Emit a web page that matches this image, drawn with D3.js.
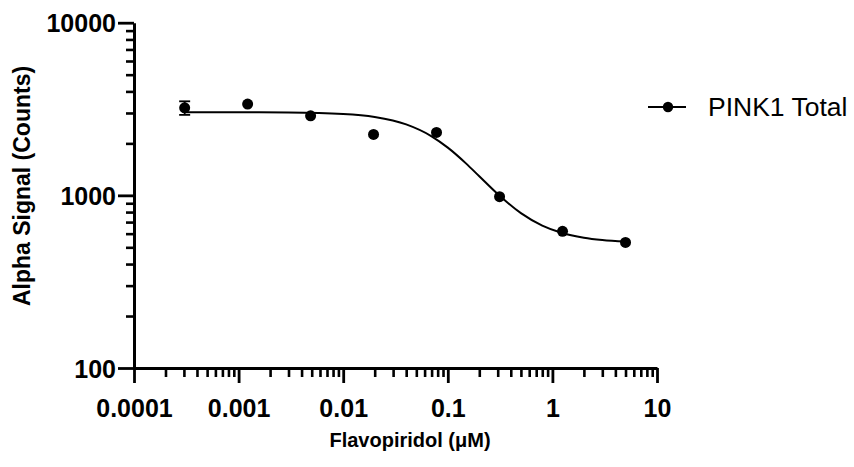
<!DOCTYPE html>
<html>
<head>
<meta charset="utf-8">
<script src="https://cdn.jsdelivr.net/npm/d3@7"></script>
<style>
  html, body { margin: 0; padding: 0; background: #fff; }
  svg { display: block; }
  text { font-family: "Liberation Sans", Arial, Helvetica, sans-serif; }
</style>
</head>
<body>
<svg id="chart" width="854" height="467"></svg>
<script>
// ---- data ----
const concentrations = [0.000305, 0.00122, 0.00488, 0.0195, 0.078, 0.3125, 1.25, 5]; // µM
const signal = [3215, 3380, 2890, 2255, 2316, 982, 619, 534];                         // counts
const sem = [290, 0, 0, 0, 0, 0, 0, 0];
// fitted curve
const fitX = [0.0003, 0.001, 0.003, 0.01, 0.02, 0.04, 0.07, 0.1, 0.15, 0.2, 0.3, 0.5, 0.8, 1.2, 2, 3, 5];
const fitY = [3030, 3027, 3017, 2958, 2842, 2576, 2198, 1890, 1527, 1290, 1018, 789, 668, 609, 568, 551, 540];
const xMajor = [0.0001, 0.001, 0.01, 0.1, 1, 10];
const xMajorLabels = ["0.0001", "0.001", "0.01", "0.1", "1", "10"];
const yMajor = [100, 1000, 10000];
const yMajorLabels = ["100", "1000", "10000"];
const seriesName = "PINK1 Total";
const xTitle = "Flavopiridol (\u03BCM)";
const yTitle = "Alpha Signal (Counts)";

// ---- layout ----
const svg = d3.select("#chart");
const x = d3.scaleLog().domain([1e-4, 10]).range([134, 657]);
const y = d3.scaleLog().domain([100, 10000]).range([368, 22.7]);

function minorsOf(majors) {
  const out = [];
  for (let i = 0; i < majors.length - 1; i++)
    for (let k = 2; k <= 9; k++) out.push(majors[i] * k);
  return out;
}
const xMinor = minorsOf(xMajor);
const yMinor = minorsOf(yMajor);

const tickFont = 25;

// X axis minor
svg.append("g").attr("transform", "translate(0,368)")
  .call(d3.axisBottom(x).tickValues(xMinor).tickSize(9).tickSizeOuter(0).tickFormat(""))
  .call(g => g.select(".domain").remove())
  .call(g => g.selectAll(".tick line").attr("stroke", "#000").attr("stroke-width", 2.6));
// X axis major
svg.append("g").attr("transform", "translate(0,368)")
  .call(d3.axisBottom(x).tickValues(xMajor).tickSize(15).tickSizeOuter(0).tickPadding(16)
    .tickFormat((d, i) => xMajorLabels[i]))
  .call(g => g.select(".domain").attr("stroke", "#000").attr("stroke-width", 3))
  .call(g => g.selectAll(".tick line").attr("stroke", "#000").attr("stroke-width", 2.8))
  .call(g => g.selectAll(".tick text").attr("fill", "#000")
    .style("font-size", tickFont + "px").style("font-weight", "bold")
    .style("font-family", '"Liberation Sans", Arial, sans-serif'));

// Y axis minor
svg.append("g").attr("transform", "translate(134,0)")
  .call(d3.axisLeft(y).tickValues(yMinor).tickSize(8).tickSizeOuter(0).tickFormat(""))
  .call(g => g.select(".domain").remove())
  .call(g => g.selectAll(".tick line").attr("stroke", "#000").attr("stroke-width", 2.6));
// Y axis major
svg.append("g").attr("transform", "translate(134,0)")
  .call(d3.axisLeft(y).tickValues(yMajor).tickSize(16).tickSizeOuter(0).tickPadding(2)
    .tickFormat((d, i) => yMajorLabels[i]))
  .call(g => g.select(".domain").attr("stroke", "#000").attr("stroke-width", 3))
  .call(g => g.selectAll(".tick line").attr("stroke", "#000").attr("stroke-width", 2.8))
  .call(g => g.selectAll(".tick text").attr("fill", "#000").attr("dy", "0.36em")
    .style("font-size", tickFont + "px").style("font-weight", "bold")
    .style("font-family", '"Liberation Sans", Arial, sans-serif'));

// Axis titles
svg.append("text")
  .attr("x", 410).attr("y", 447)
  .attr("text-anchor", "middle")
  .style("font-size", "20px").style("font-weight", "bold")
  .text(xTitle);

svg.append("text")
  .attr("transform", "translate(30,186) rotate(-90)")
  .attr("text-anchor", "middle")
  .style("font-size", "23px").style("font-weight", "bold")
  .text(yTitle);

// Fitted curve
const line = d3.line()
  .x((d, i) => x(fitX[i]))
  .y((d, i) => y(fitY[i]))
  .curve(d3.curveMonotoneX);
svg.append("path")
  .datum(fitX)
  .attr("d", line)
  .attr("fill", "none")
  .attr("stroke", "#000")
  .attr("stroke-width", 2);

// Error bars
const pts = concentrations.map((c, i) => ({ c, v: signal[i], e: sem[i] }));
const eb = svg.append("g").attr("stroke", "#000").attr("stroke-width", 1.8);
pts.filter(d => d.e > 0).forEach(d => {
  const cx = x(d.c);
  eb.append("line").attr("x1", cx).attr("x2", cx).attr("y1", y(d.v + d.e)).attr("y2", y(d.v - d.e));
  eb.append("line").attr("x1", cx - 5.5).attr("x2", cx + 5.5).attr("y1", y(d.v + d.e)).attr("y2", y(d.v + d.e));
  eb.append("line").attr("x1", cx - 5.5).attr("x2", cx + 5.5).attr("y1", y(d.v - d.e)).attr("y2", y(d.v - d.e));
});

// Points
svg.append("g").selectAll("circle")
  .data(pts)
  .join("circle")
  .attr("cx", d => x(d.c))
  .attr("cy", d => y(d.v))
  .attr("r", 5.5)
  .attr("fill", "#000");

// Legend
const lg = svg.append("g");
lg.append("line").attr("x1", 648).attr("x2", 686).attr("y1", 107).attr("y2", 107)
  .attr("stroke", "#000").attr("stroke-width", 2);
lg.append("circle").attr("cx", 668).attr("cy", 107).attr("r", 5.2).attr("fill", "#000");
lg.append("text").attr("x", 708).attr("y", 115.5)
  .style("font-size", "26.5px").attr("fill", "#000")
  .text(seriesName);
</script>
</body>
</html>
